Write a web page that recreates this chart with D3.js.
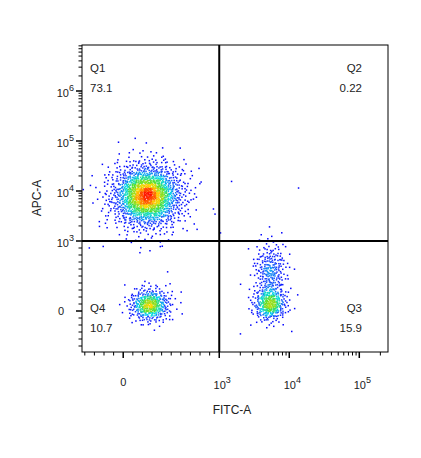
<!DOCTYPE html><html><head><meta charset="utf-8">
<script src="https://cdn.jsdelivr.net/npm/d3@7"></script>
<style>body{margin:0;background:#fff}text{font-family:"Liberation Sans",Arial,sans-serif;fill:#222}</style>
</head><body><svg id="c" width="421" height="458"></svg><script>
// ---- data ----
const quadrantNames = ["Q1","Q2","Q3","Q4"];
const quadrantPercents = ["73.1","0.22","15.9","10.7"];
const gateX = 1000, gateY = 1000;
// populations: center FITC, center APC, spread (decades on display axis), event count
const popFitc = [250, 280, 5300, 5400, 600];
const popApc  = [8000, 86, 90, 560, 3000];
const popSdX  = [0.26, 0.15, 0.12, 0.12, 0.9];
const popSdY  = [0.33, 0.17, 0.17, 0.30, 0.8];
const popN    = [1600, 420, 330, 260, 20];
const xTickVals = [0, 1000, 10000, 100000];
const yTickVals = [0, 1000, 10000, 100000, 1000000];

// ---- display transforms (linear below 10^3, log above) ----
const tx = v => v >= 1000 ? Math.log10(v) : 3 - (96/70)*(1 - v/1000);
const txInv = t => t >= 3 ? Math.pow(10,t) : 1000*(1 - (3-t)*70/96);
const ty = v => v >= 1000 ? Math.log10(v) : 3 - 1.4*(1 - v/1000);
const tyInv = t => t >= 3 ? Math.pow(10,t) : 1000*(1 - (3-t)/1.4);

const L=82,R=388,T=45,B=352;
const xs = d3.scaleLinear().domain([1.04,5.41]).range([L,R]);
const ys = d3.scaleLinear().domain([0.78,6.92]).range([B,T]);
const X = v => xs(tx(v)), Y = v => ys(ty(v));

// deterministic quasi-random (Halton) sampling of each population
function halton(i,b){let f=1,r=0;while(i>0){f/=b;r+=f*(i%b);i=Math.floor(i/b);}return r;}
const events=[];
let k=1;
popN.forEach((n,p)=>{
  for(let i=0;i<n;i++,k++){
    const u1=Math.max(1e-6,halton(k,2)),u2=halton(k,3);
    const rr=Math.sqrt(-2*Math.log(u1));
    const gx=rr*Math.cos(2*Math.PI*u2), gy=rr*Math.sin(2*Math.PI*u2);
    const t1=tx(popFitc[p])+gx*popSdX[p], t2=ty(popApc[p])+gy*popSdY[p];
    events.push({fitc:txInv(t1),apc:tyInv(t2)});
  }
});
const svg=d3.select("#c");
svg.append("defs").append("clipPath").attr("id","cl").append("rect").attr("x",L).attr("y",T).attr("width",R-L).attr("height",B-T);
// density
const pts=events.map(e=>({x:X(e.fitc),y:Y(e.apc)})).filter(p=>p.x>L&&p.x<R&&p.y>T&&p.y<B);
const cell=4, grid=new Map();
pts.forEach(p=>{const key=Math.floor(p.x/cell)+","+Math.floor(p.y/cell);grid.set(key,(grid.get(key)||0)+1);});
pts.forEach(p=>{let s=0;const cx=Math.floor(p.x/cell),cy=Math.floor(p.y/cell);
  for(let a=-1;a<=1;a++)for(let b=-1;b<=1;b++)s+=(grid.get((cx+a)+","+(cy+b))||0)*(a===0&&b===0?2:1);p.d=s;});
const dmax=d3.max(pts,p=>p.d);
const jet=d3.scaleLinear().domain([0,0.2,0.4,0.6,0.8,1]).range(["#0000ff","#2040ff","#00d8e8","#50e030","#ffd800","#ff1000"]);
pts.sort((a,b)=>a.d-b.d);
svg.append("g").attr("clip-path","url(#cl)").selectAll("rect").data(pts).join("rect")
  .attr("x",p=>p.x-0.75).attr("y",p=>p.y-0.75).attr("width",1.5).attr("height",1.5)
  .attr("fill",p=>jet(Math.pow(p.d/dmax,1.25)));
// frame
svg.append("rect").attr("x",L).attr("y",T).attr("width",R-L).attr("height",B-T).attr("fill","none").attr("stroke","#000").attr("stroke-width",1);
// gates
svg.append("line").attr("x1",X(gateX)).attr("x2",X(gateX)).attr("y1",T).attr("y2",B).attr("stroke","#000").attr("stroke-width",2);
svg.append("line").attr("x1",L).attr("x2",R).attr("y1",Y(gateY)).attr("y2",Y(gateY)).attr("stroke","#000").attr("stroke-width",2);
// ticks
function minorVals(maxExp){const a=[];for(let v=-500;v<1000;v+=100)a.push(v);for(let e=3;e<=maxExp;e++)for(let m=1;m<10;m++)a.push(m*Math.pow(10,e));return a;}
const xMin=minorVals(5).filter(v=>X(v)>L+1&&X(v)<R);
const xAx=svg.append("g");
xMin.forEach(v=>{const major=[0,1000,10000,100000].includes(v);xAx.append("line").attr("x1",X(v)).attr("x2",X(v)).attr("y1",B).attr("y2",B+(major?6:3.5)).attr("stroke","#000").attr("stroke-width",major?1.5:1);});
const yMin=minorVals(6).filter(v=>Y(v)<B-1&&Y(v)>T);
yMin.forEach(v=>{const major=yTickVals.includes(v);xAx.append("line").attr("y1",Y(v)).attr("y2",Y(v)).attr("x1",L).attr("x2",L-(major?6:3.5)).attr("stroke","#000").attr("stroke-width",major?1.5:1);});
function lab(g,v,x,y,anchor){const t=g.append("text").attr("x",x).attr("y",y).attr("font-size",11).attr("text-anchor",anchor);
  if(v===0){t.text("0");}else{t.append("tspan").text("10");t.append("tspan").attr("dy",-6).attr("font-size",9).text(Math.round(Math.log10(v)));}}
xTickVals.forEach(v=>lab(svg,v,X(v)+(v?3:0),v?389:386,"middle"));
yTickVals.forEach(v=>lab(svg,v,v?74:64,Y(v)+(v?6:4),"end"));
svg.append("text").attr("x",232).attr("y",414).attr("font-size",12).attr("text-anchor","middle").text("FITC-A");
svg.append("text").attr("transform","translate(41,198) rotate(-90)").attr("font-size",12).attr("text-anchor","middle").text("APC-A");
// quadrant labels
const qpos=[[90,"start",72],[362,"end",72],[362,"end",312],[90,"start",312]];
quadrantNames.forEach((q,i)=>{const [x,a,y]=qpos[i];
  svg.append("text").attr("x",x).attr("y",y).attr("font-size",11.5).attr("text-anchor",a).text(q);
  svg.append("text").attr("x",x).attr("y",y+20).attr("font-size",11.5).attr("text-anchor",a).text(quadrantPercents[i]);});
</script></body></html>
